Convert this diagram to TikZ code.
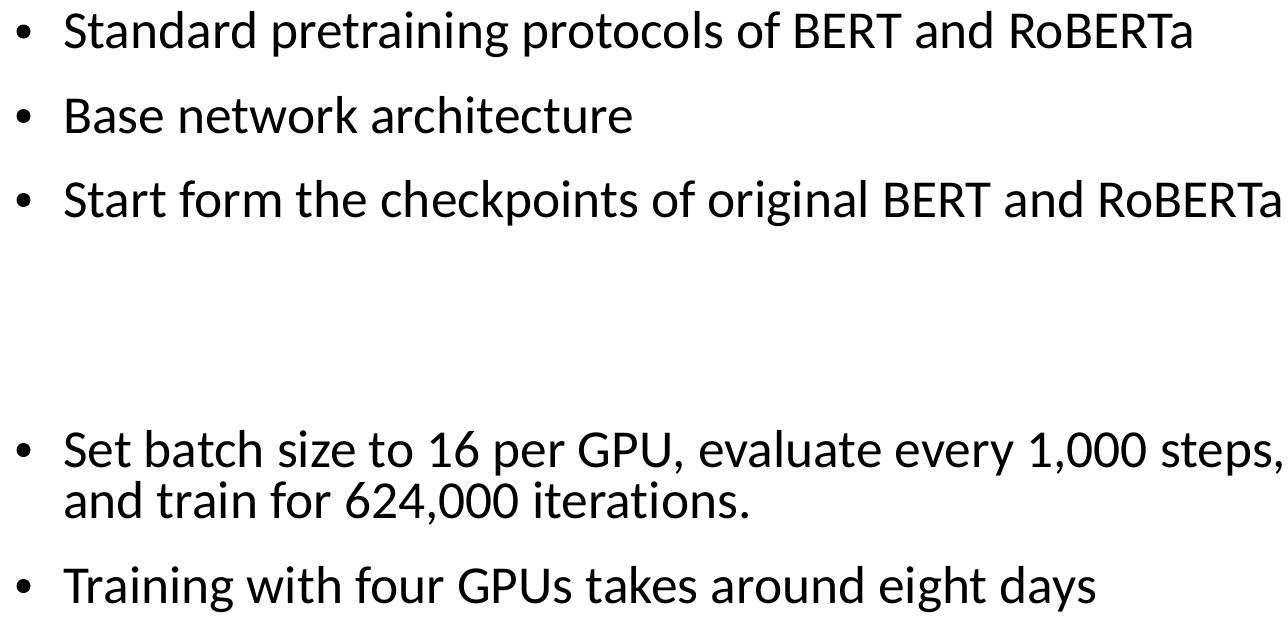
\documentclass[tikz,border=0pt]{standalone}
\usepackage{fontspec}
\setmainfont[Ligatures=NoCommon]{Carlito}
\begin{document}
\begin{tikzpicture}[x=1pt,y=-1pt,
  txt/.style={anchor=base west,inner sep=0pt,font=\fontsize{53.4}{51}\selectfont},
  dot/.style={circle,fill=black,inner sep=0pt,minimum size=14pt}]
\useasboundingbox (0,0) rectangle (1288,621);
\fill[white] (0,0) rectangle (1288,621);
\node[dot] (b1) at (23.5,31.5) {};
\node[txt] (t1) at (63,48.5) {Standard pretraining protocols of BERT and RoBERTa};
\node[dot] (b2) at (23.5,116) {};
\node[txt] (t2) at (63,133) {Base network architecture};
\node[dot] (b3) at (23.5,200) {};
\node[txt] (t3) at (63,217) {Start form the checkpoints of original BERT and RoBERTa};
\node[dot] (b4) at (23.5,450) {};
\node[txt] (t4) at (63,467) {Set batch size to 16 per GPU, evaluate every 1,000 steps,};
\node[txt] (t4b) at (63,518) {and train for 624,000 iterations.};
\node[dot] (b5) at (23.5,586) {};
\node[txt] (t5) at (63,603) {Training with four GPUs takes around eight days};
\end{tikzpicture}
\end{document}
